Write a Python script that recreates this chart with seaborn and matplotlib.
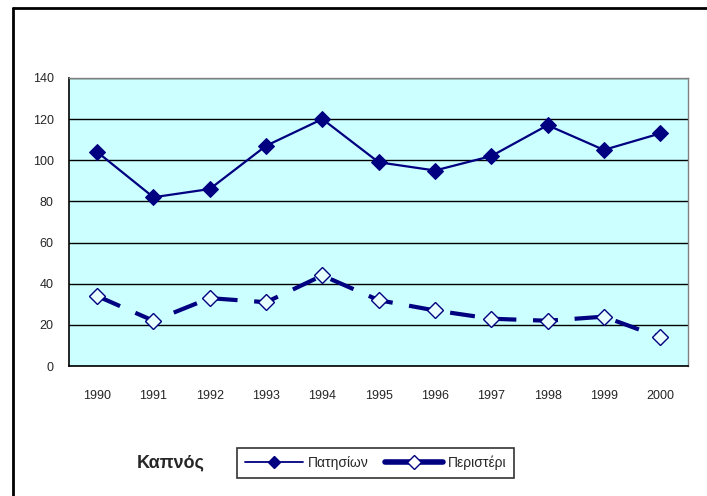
import matplotlib
matplotlib.use("Agg")
import matplotlib.pyplot as plt
import seaborn as sns
import pandas as pd
from matplotlib.lines import Line2D

# data
years = ["1990", "1991", "1992", "1993", "1994", "1995", "1996", "1997", "1998", "1999", "2000"]
patision = [104, 82, 86, 107, 120, 99, 95, 102, 117, 105, 113]
peristeri = [34, 22, 33, 31, 44, 32, 27, 23, 22, 24, 14]
series_names = ["Πατησίων", "Περιστέρι"]
legend_title = "Καπνός"
yticks = [0, 20, 40, 60, 80, 100, 120, 140]

sns.set_style("white")
plt.rcParams['font.family'] = ['Liberation Sans', 'DejaVu Sans']

navy = "#000080"

df = pd.DataFrame({
    "pos": list(range(len(years))) * 2,
    "value": patision + peristeri,
    "station": [series_names[0]] * len(years) + [series_names[1]] * len(years),
})

fig = plt.figure(figsize=(7.07, 4.96), dpi=100)
ax = fig.add_axes([0.0976, 0.262, 0.876, 0.581])
ax.set_facecolor("#CCFFFF")

d1 = df[df.station == series_names[0]]
d2 = df[df.station == series_names[1]]
sns.lineplot(data=d1, x="pos", y="value", ax=ax, color=navy, linewidth=1.6,
             marker="D", markersize=8, markerfacecolor=navy, markeredgecolor=navy,
             legend=False)
sns.lineplot(data=d2, x="pos", y="value", ax=ax, color=navy, linewidth=3,
             dashes=False, marker="D", markersize=8, markerfacecolor="white",
             markeredgecolor=navy, markeredgewidth=1.0, legend=False)
ax.lines[-1].set_linestyle((0, (6, 4)))
ax.lines[-1].set_markerfacecolor("#E8FFFF")

ax.set_xlim(-0.5, len(years) - 0.5)
ax.set_ylim(0, 140)
ax.set_yticks(yticks)
ax.set_xticks(range(len(years)))
ax.set_xticklabels(years)
ax.set_xticks([i - 0.5 for i in range(len(years) + 1)], minor=True)
ax.tick_params(axis="x", which="major", length=0, pad=17, labelsize=9)
ax.tick_params(axis="x", which="minor", length=5, width=1, color="black", direction="out")
ax.tick_params(axis="y", length=5, width=1, color="black", direction="out", pad=6, labelsize=9)
ax.set_xlabel("")
ax.set_ylabel("")
ax.yaxis.grid(True, color="black", linewidth=1)
ax.set_axisbelow(True)

for side in ["left", "bottom"]:
    ax.spines[side].set_color("black")
    ax.spines[side].set_linewidth(1.2)
for side in ["top", "right"]:
    ax.spines[side].set_color("#808080")
    ax.spines[side].set_linewidth(1)

# outer frame (left and top edges)
fig.add_artist(Line2D([0.018, 0.018], [0.0, 0.984], color="black", linewidth=2))
fig.add_artist(Line2D([0.018, 1.0], [0.984, 0.984], color="black", linewidth=2))

# legend
handles = [
    Line2D([0], [0], color=navy, linewidth=1.3, marker="D", markersize=6,
           markerfacecolor=navy, markeredgecolor=navy),
    Line2D([0], [0], color=navy, linewidth=4, marker="D", markersize=7,
           markerfacecolor="white", markeredgecolor=navy),
]
leg = fig.legend(handles, series_names, loc="center left",
                 bbox_to_anchor=(0.326, 0.067), ncol=2, frameon=True,
                 fancybox=False, edgecolor="black", fontsize=10,
                 handlelength=4.2, handletextpad=0.3, columnspacing=1.2,
                 borderpad=0.55)
leg.get_frame().set_linewidth(1.2)
fig.text(0.193, 0.067, legend_title, fontsize=13, fontweight="bold",
         va="center", ha="left")

fig.savefig("out.png", dpi=100)
